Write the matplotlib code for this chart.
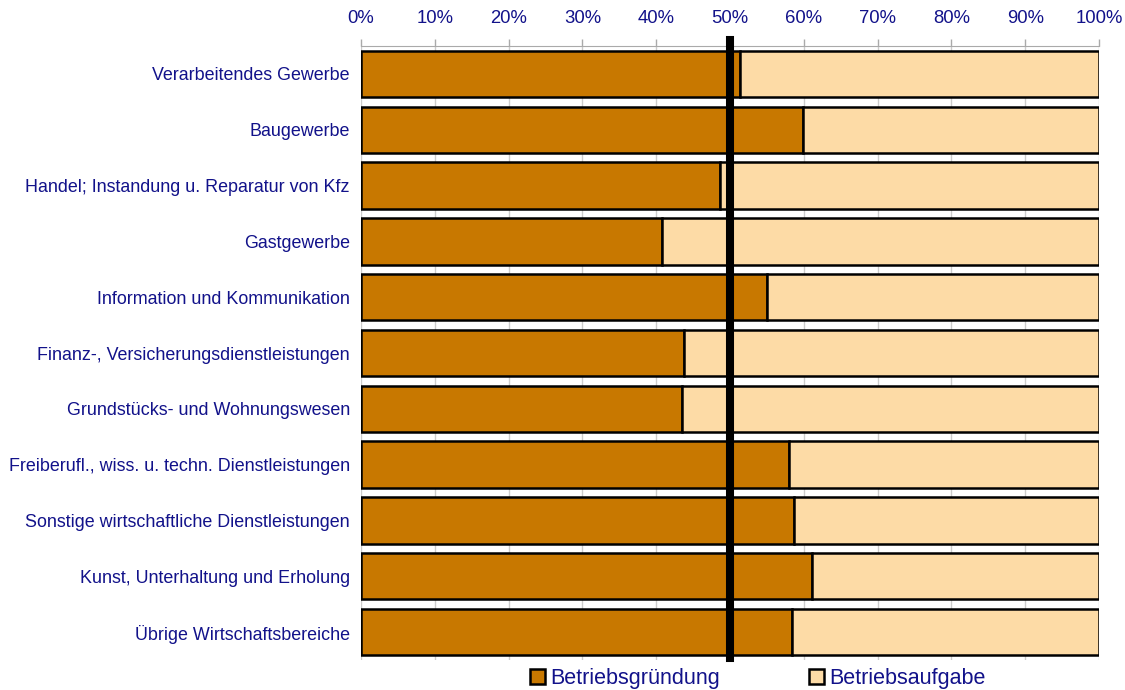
import matplotlib
matplotlib.use("Agg")
import matplotlib.pyplot as plt
from matplotlib.patches import Patch
from matplotlib.ticker import PercentFormatter

# branches, top to bottom
branches = [
    "Verarbeitendes Gewerbe",
    "Baugewerbe",
    "Handel; Instandung u. Reparatur von Kfz",
    "Gastgewerbe",
    "Information und Kommunikation",
    "Finanz-, Versicherungsdienstleistungen",
    "Grundstücks- und Wohnungswesen",
    "Freiberufl., wiss. u. techn. Dienstleistungen",
    "Sonstige wirtschaftliche Dienstleistungen",
    "Kunst, Unterhaltung und Erholung",
    "Übrige Wirtschaftsbereiche",
]
gruendung = [51.4, 59.9, 48.6, 40.8, 55.0, 43.7, 43.5, 58.0, 58.7, 61.1, 58.4]
aufgabe = [100 - g for g in gruendung]

navy = "#12128a"
dark = "#c87800"
light = "#fddba6"

plt.rcParams["font.family"] = ["Liberation Sans", "DejaVu Sans"]

fig = plt.figure(figsize=(11.25, 6.9), dpi=100)
ax = fig.add_axes([0.3209, 0.0435, 0.656, 0.8898])

y = list(range(len(branches)))
ax.barh(y, gruendung, height=0.83, color=dark, edgecolor="black", linewidth=1.8, zorder=2)
ax.barh(y, aufgabe, left=gruendung, height=0.83, color=light, edgecolor="black",
        linewidth=1.8, zorder=2)
ax.axvline(50, ymin=0.003, ymax=1.01, color="black", linewidth=5.8, zorder=3, clip_on=False)

ax.set_xlim(0, 100)
ax.set_ylim(len(branches) - 0.5, -0.5)
ax.set_xticks(range(0, 101, 10))
ax.xaxis.set_major_formatter(PercentFormatter(decimals=0))
ax.xaxis.tick_top()
ax.tick_params(axis="x", colors="#aaaaaa", labelcolor=navy, labelsize=13.3, length=5, width=1, pad=9)
ax.set_yticks(y)
ax.set_yticklabels(branches)
ax.tick_params(axis="y", length=0, labelcolor=navy, labelsize=12.9, pad=8)
ax.grid(axis="x", color="#cccccc", linewidth=1, zorder=0)
ax.set_axisbelow(True)
for side in ["left", "right", "bottom"]:
    ax.spines[side].set_visible(False)
ax.spines["top"].set_color("#aaaaaa")

handles = [Patch(facecolor=dark, edgecolor="black", linewidth=1.8, label="Betriebsgründung"),
           Patch(facecolor=light, edgecolor="black", linewidth=1.8, label="Betriebsaufgabe")]
leg = fig.legend(handles=handles, loc="center", bbox_to_anchor=(0.6735, 0.017), ncol=2,
                 frameon=False, fontsize=15.5, handlelength=0.7, handleheight=0.7,
                 handletextpad=0.25, columnspacing=4.1, borderaxespad=0)
for t in leg.get_texts():
    t.set_color(navy)

fig.savefig("out.png", dpi=100)
